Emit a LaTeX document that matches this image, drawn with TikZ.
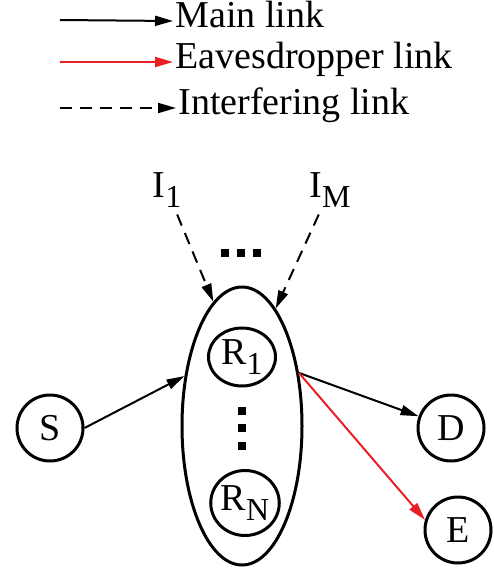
\documentclass[tikz,border=0pt]{standalone}
\usepackage{fontspec}
\setmainfont{Liberation Serif}
\newfontfamily\figfont{Liberation Serif}
\usetikzlibrary{positioning, arrows.meta, shapes.geometric}
\definecolor{evered}{RGB}{232,32,38}
\newcommand{\lowsub}[1]{\raisebox{-5pt}{\fontsize{16}{16}\selectfont #1}}

\begin{document}
\begin{tikzpicture}[x=0.5pt, y=-0.5pt, font=\figfont\fontsize{19}{22}\selectfont,
        station/.style={draw, circle, line width=1.5pt, minimum size=33pt, inner sep=0pt},
        relay/.style={draw, ellipse, line width=1.5pt, inner sep=0pt},
        link/.style={-{Triangle[length=9pt, width=5pt]}, line width=1pt},
        interf/.style={link, dash pattern=on 6pt off 4pt},
        legend/.style={anchor=west, inner sep=1pt, text height=0.7em, text depth=0.1em},
        dot/.style={fill, minimum size=4pt, inner sep=0pt}]
    \useasboundingbox (0,0) rectangle (493,568);

    % legend
    \coordinate (l1) at (60,20);
    \coordinate (l2) at (60,62);
    \coordinate (l3) at (60,108);
    \node (t1) [legend] at (173,21) {Main link};
    \node (t2) [legend] at (173,62) {Eavesdropper link};
    \node (t3) [legend] at (176,108) {Interfering link};
    \draw[link] (l1) -- (t1.west);
    \draw[link, evered] (l2) -- (t2.west);
    \draw[interf] (l3) -- (t3.west);

    % nodes
    \node (relays) [relay, minimum width=60pt, minimum height=139pt] at (242,426) {};
    \node (r1) [relay, minimum width=33.5pt, minimum height=29pt] at (242,357) {R\lowsub{1}};
    \node (rn) [relay, minimum width=33.5pt, minimum height=32.5pt] at (245,503) {R\lowsub{N}};
    \node (s) [station] at (50,428) {S};
    \node (d) [station] at (451,428) {D};
    \node (e) [station] at (458,530) {E};
    \node (i1) at (167,190) {I\lowsub{1}};
    \node (im) at (330,190) {I\lowsub{M}};

    % dots
    \foreach \x in {225,241,257}
        \node[dot] at (\x,253) {};
    \foreach \y in {411,428,446}
        \node[dot] at (242,\y) {};

    % links
    \draw[link] (s.east) -- (relays.139);
    \draw[link] (relays.43) -- (d);
    \draw[link, evered] (relays.43) -- (e.163);
    \draw[interf] (i1) -- (relays.103);
    \draw[interf] (im) -- (relays.74);
\end{tikzpicture}
\end{document}
